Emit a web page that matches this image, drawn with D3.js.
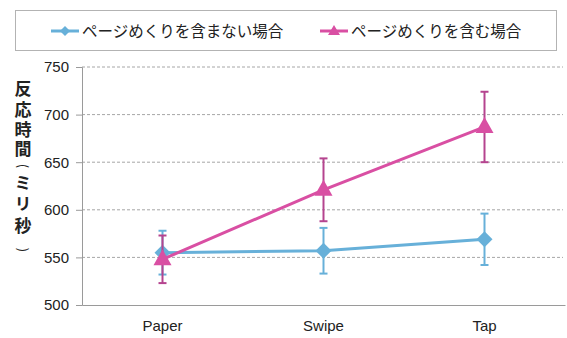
<!DOCTYPE html>
<html>
<head>
<meta charset="utf-8">
<script src="https://cdn.jsdelivr.net/npm/d3@7"></script>
<style>
  html, body { margin: 0; padding: 0; background: #fff; }
  svg { display: block; }
</style>
</head>
<body>
<svg id="chart" width="567" height="338"></svg>
<script>
// Conditions and response-time results
const categories = ["Paper", "Swipe", "Tap"];
const seriesNames = ["ページめくりを含まない場合", "ページめくりを含む場合"];
const meansWithout = [555, 557, 569];
const errWithout = [23, 24, 27];
const meansWith = [548, 621, 687];
const errWith = [25, 33, 37];
const yTicks = [500, 550, 600, 650, 700, 750];
// y title, top to bottom; the brackets are turned sideways
const yTitleChars = ["反", "応", "時", "間", "(", "ミ", "リ", "秒", ")"];

const font = "'Liberation Sans', Arial, sans-serif";
const jpFont = "'Noto Sans CJK JP', sans-serif";
const blue = "#67b0d9";
const pink = "#d94fa3";
const pinkErr = "#b5448f";

const svg = d3.select("#chart");
const m = { left: 82, right: 2, top: 67, bottom: 33 };
const W = 567, H = 338;

const x = d3.scaleBand().domain(categories).range([m.left, W - m.right]);
const y = d3.scaleLinear().domain([500, 750]).range([H - m.bottom, m.top]);
const cx = c => x(c) + x.bandwidth() / 2;

// horizontal dashed gridlines
svg.append("g").selectAll("line")
  .data(yTicks.filter(t => t > 500))
  .join("line")
  .attr("x1", m.left).attr("x2", W - 4)
  .attr("y1", d => y(d)).attr("y2", d => y(d))
  .attr("stroke", "#a6a6a6").attr("stroke-width", 1)
  .attr("stroke-dasharray", "3,2");

// y axis
const yAxis = svg.append("g")
  .attr("transform", `translate(${m.left},0)`)
  .call(d3.axisLeft(y).tickValues(yTicks).tickSize(6).tickPadding(7));
yAxis.select(".domain").attr("stroke", "#9a9a9a");
yAxis.selectAll(".tick line").attr("stroke", "#9a9a9a");
yAxis.selectAll(".tick text")
  .attr("font-family", font).attr("font-size", 15).attr("fill", "#222");

// x axis
const xAxis = svg.append("g")
  .attr("transform", `translate(0,${y(500)})`)
  .call(d3.axisBottom(x).tickSize(0).tickPadding(15));
xAxis.select(".domain").attr("stroke", "#9a9a9a");
xAxis.selectAll(".tick text")
  .attr("font-family", font).attr("font-size", 15).attr("fill", "#222");

// y axis title: kanji/kana in vertical cells, brackets rotated
const isBracket = d => d === "(" || d === ")";
const titleTop = [80, 101, 121, 140, 166, 174, 195, 217, 250];
svg.append("g").selectAll("text")
  .data(yTitleChars)
  .join("text")
  .each(function (d, i) {
    const t = d3.select(this);
    if (isBracket(d)) {
      t.attr("transform", `translate(23,${titleTop[i]}) rotate(90)`)
        .attr("text-anchor", "middle")
        .attr("dominant-baseline", "central")
        .attr("font-size", 13);
    } else {
      t.attr("x", 23).attr("y", titleTop[i])
        .style("writing-mode", "vertical-rl")
        .attr("font-weight", "bold")
        .attr("font-size", 17);
    }
  })
  .attr("font-family", jpFont)
  .attr("fill", "#222")
  .text(d => d);

const line = d3.line().x(d => cx(d.c)).y(d => y(d.v));

function drawSeries(means, errs, color, errColor, marker) {
  const pts = categories.map((c, i) => ({ c, v: means[i], e: errs[i] }));
  const g = svg.append("g");
  // error bars
  pts.forEach(p => {
    const xc = cx(p.c);
    g.append("line").attr("x1", xc).attr("x2", xc)
      .attr("y1", y(p.v - p.e)).attr("y2", y(p.v + p.e))
      .attr("stroke", errColor).attr("stroke-width", 2);
    [p.v - p.e, p.v + p.e].forEach(v => {
      g.append("line").attr("x1", xc - 4).attr("x2", xc + 4)
        .attr("y1", y(v)).attr("y2", y(v))
        .attr("stroke", errColor).attr("stroke-width", 2);
    });
  });
  g.append("path").datum(pts).attr("d", line)
    .attr("fill", "none").attr("stroke", color).attr("stroke-width", 3);
  g.selectAll(".mk").data(pts).join("path")
    .attr("transform", d => `translate(${cx(d.c)},${y(d.v)})`)
    .attr("d", marker)
    .attr("fill", color);
}

const diamond = "M0,-8L8,0L0,8L-8,0Z";
const triangle = "M0,-10L9,6L-9,6Z";

drawSeries(meansWithout, errWithout, blue, blue, diamond);
drawSeries(meansWith, errWith, pink, pinkErr, triangle);

// legend
const lg = svg.append("g");
lg.append("rect").attr("x", 15.5).attr("y", 10.5).attr("width", 541).attr("height", 40)
  .attr("fill", "#fff").attr("stroke", "#b3b3b3").attr("stroke-width", 1);
const legendItems = [
  { name: seriesNames[0], color: blue, marker: "M0,-5L5,0L0,5L-5,0Z", x0: 51 },
  { name: seriesNames[1], color: pink, marker: "M0,-6L6,4L-6,4Z", x0: 320 }
];
legendItems.forEach(it => {
  lg.append("line").attr("x1", it.x0).attr("x2", it.x0 + 28)
    .attr("y1", 31).attr("y2", 31)
    .attr("stroke", it.color).attr("stroke-width", 3);
  lg.append("path").attr("transform", `translate(${it.x0 + 14},31)`)
    .attr("d", it.marker).attr("fill", it.color);
  lg.append("text").attr("x", it.x0 + 31).attr("y", 37)
    .attr("font-family", jpFont).attr("font-size", 15.5).attr("fill", "#222")
    .text(it.name);
});
</script>
</body>
</html>
